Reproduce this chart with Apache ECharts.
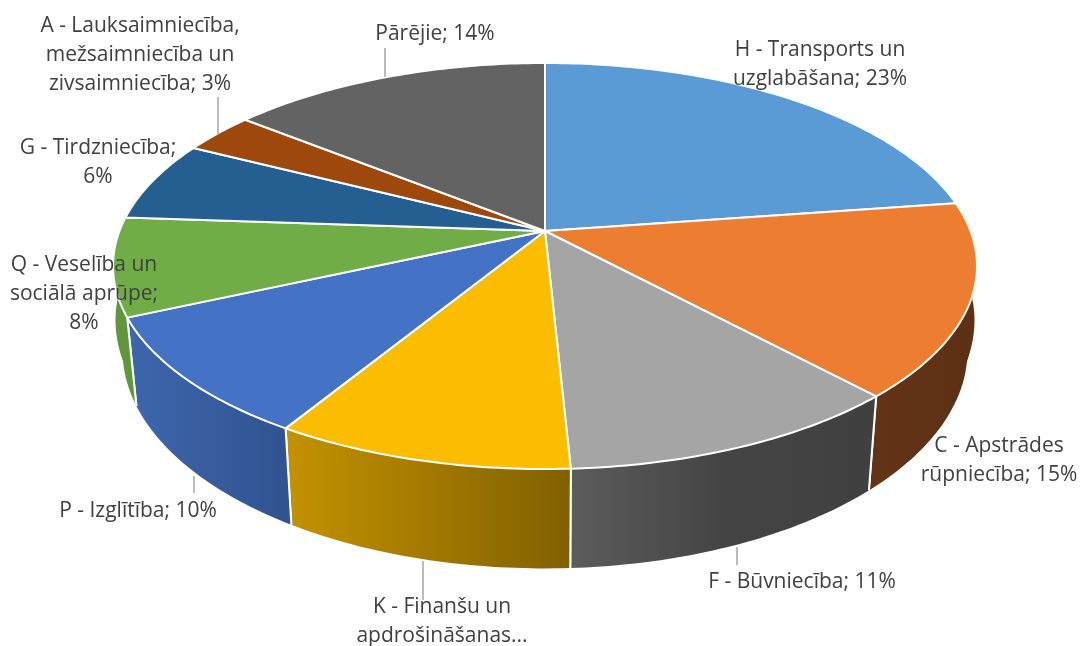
<!DOCTYPE html>
<html>
<head>
<meta charset="utf-8">
<title>Nozares</title>
<style>
  html, body { margin: 0; padding: 0; background: #fff; }
  #main { width: 1081px; height: 646px; }
</style>
<script src="https://cdn.jsdelivr.net/npm/echarts@6/dist/echarts.min.js"></script>
</head>
<body>
<div id="main"></div>
<script>
// values clockwise from 12 o'clock, the labels show them rounded
var categories = ['H - Transports un\nuzglabāšana', 'C - Apstrādes\nrūpniecība', 'F - Būvniecība', 'K - Finanšu un\napdrošināšanas...', 'P - Izglītība', 'Q - Veselība un\nsociālā aprūpe', 'G - Tirdzniecība', 'A - Lauksaimniecība,\nmežsaimniecība un\nzivsaimniecība', 'Pārējie'];
var values = [22.7, 15.4, 11.1, 9.5, 9.6, 7.8, 6.4, 3.25, 14.25];
var percentSeparators = ['; ', '; ', '; ', null, '; ', ';\n', ';\n', '; ', '; '];

var topColors = ['#5b9bd5', '#ed7d31', '#a5a5a5', '#fcbd00', '#4472c4', '#70ad47', '#255e91', '#9e480e', '#636363'];
var wallColors = [
	['#3f6d96', '#3f6d96'],
	['#633316', '#5c3014'],
	['#5c5c5c', '#404040'],
	['#c49200', '#806000'],
	['#3d66ad', '#30538f'],
	['#5f973a', '#5f973a'],
	['#1b4568', '#1b4568'],
	['#6f3209', '#6f3209'],
	['#464646', '#464646']
];

// label centre and optional leader line [x, y1, y2]
var labelPos = [[820, 65], [999, 461], [802, 582], [442, 622], [138, 511], [84, 294], [98, 163], [140, 55], [435, 34]];
var leaders = [null, null, [737, 547, 565], [423, 561, 600], [194, 476, 493], null, null, [218, 97, 134], [385, 48, 77]];

// perspective projection of the disc
var cx = 545, cy = 231, fx = 425.5, fy = 197, persp = 0.1724;
var baseY = 313, baseSx = 0.978, baseSy = 1.073;

var total = 0;
var starts = [];
values.forEach(function (v) {
	starts.push(total);
	total += v;
});

var project = function (v) {
	var a = v / total * Math.PI * 2;
	var u = Math.sin(a), w = -Math.cos(a);
	var d = 1 - persp * w;
	return [cx + fx * u / d, cy + fy * w / d, w];
};
// bottom rim, it widens towards the sides of the pie
var toBase = function (p) {
	var depth = Math.min(0.31, Math.max(0, 0.22 - p[2]));
	return [cx + (baseSx + depth * 0.14) * (p[0] - cx), baseY + baseSy * (p[1] - cy)];
};
var arc = function (i) {
	var pts = [];
	var n = Math.ceil(values[i] * 4);
	for (var k = 0; k <= n; k++) {
		pts.push(project(starts[i] + values[i] * k / n));
	}
	return pts;
};

var renderWall = function (params) {
	var i = params.dataIndex;
	var rim = arc(i);
	var base = rim.map(toBase);
	var first = rim[0], last = rim[rim.length - 1];
	var edge = { stroke: '#fff', lineWidth: 2 };
	return {
		type: 'group',
		children: [{
			type: 'polygon',
			shape: { points: rim.concat(base.slice().reverse()) },
			style: {
				fill: new echarts.graphic.LinearGradient(0, 0, 1, 0, [
					{ offset: 0, color: wallColors[i][0] },
					{ offset: 0.5, color: i == 2 ? '#444444' : echarts.color.lerp(0.5, wallColors[i]) },
					{ offset: 1, color: wallColors[i][1] }
				])
			}
		}, {
			type: 'line',
			shape: { x1: first[0], y1: first[1], x2: base[0][0], y2: base[0][1] },
			style: edge
		}, {
			type: 'line',
			shape: { x1: last[0], y1: last[1], x2: base[base.length - 1][0], y2: base[base.length - 1][1] },
			style: edge
		}]
	};
};

var renderTop = function (params) {
	var i = params.dataIndex;
	return {
		type: 'polygon',
		shape: { points: [[cx, cy]].concat(arc(i)) },
		style: { fill: topColors[i], stroke: '#fff', lineWidth: 2, lineJoin: 'round' }
	};
};

var renderLabel = function (params) {
	var i = params.dataIndex;
	var text = categories[i];
	if (percentSeparators[i]) {
		text += percentSeparators[i] + Math.round(values[i]) + '%';
	}
	var children = [];
	if (leaders[i]) {
		children.push({
			type: 'line',
			shape: { x1: leaders[i][0], y1: leaders[i][1], x2: leaders[i][0], y2: leaders[i][2] },
			style: { stroke: '#a6a6a6', lineWidth: 1.5 }
		});
	}
	children.push({
		type: 'text',
		style: {
			text: text,
			x: labelPos[i][0],
			y: labelPos[i][1],
			align: 'center',
			verticalAlign: 'middle',
			fill: '#404040',
			lineHeight: 29,
			font: '21px "Open Sans"'
		}
	});
	return { type: 'group', children: children };
};

var chart = echarts.init(document.getElementById('main'));
chart.setOption({
	animation: false,
	backgroundColor: '#fff',
	series: [
		{ type: 'custom', coordinateSystem: 'none', silent: true, z: 1, data: values, renderItem: renderWall },
		{ type: 'custom', coordinateSystem: 'none', silent: true, z: 2, data: values, renderItem: renderTop },
		{ type: 'custom', coordinateSystem: 'none', silent: true, z: 3, data: values, renderItem: renderLabel }
	]
});
</script>
</body>
</html>
